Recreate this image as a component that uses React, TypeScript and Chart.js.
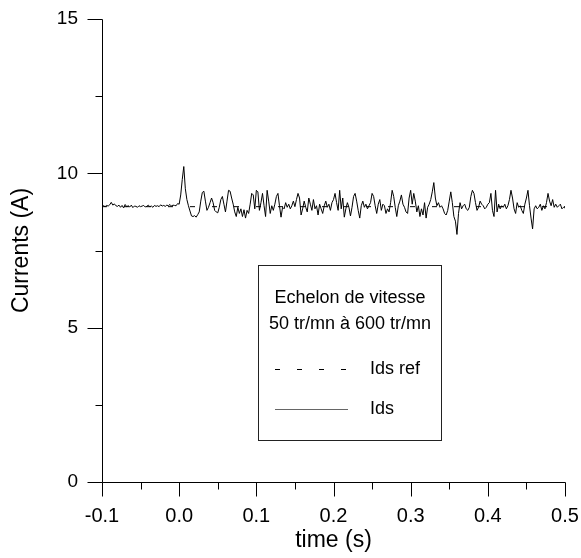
import { useEffect, useRef } from "react";
import { Chart, registerables } from "chart.js";

Chart.register(...registerables);

// ---- data ----
const T_START = -0.1;
const T_STEP = 0.002;

// Ids before the speed step (t = -0.100 .. 0.000)
const idsBefore = [
  8.93, 8.95, 8.92, 8.96, 8.94, 8.98, 9.06, 8.97, 9.01, 8.95,
  8.93, 8.97, 8.90, 8.96, 8.88, 8.99, 8.92, 8.95, 8.91, 8.97,
  8.89, 8.94, 8.93, 8.90, 8.95, 8.92, 8.94, 8.96, 8.91, 8.93,
  8.97, 8.92, 8.94, 8.90, 8.96, 8.93, 8.95, 8.92, 8.98, 8.94,
  8.96, 8.93, 8.97, 8.95, 8.99, 8.94, 8.97, 8.96, 8.95, 9.02,
  9.0,
];

// Ids after the speed step (t = 0.002 .. 0.500)
const idsAfter = [
  9.30, 9.80, 10.22, 9.50, 9.15, 8.95, 8.78, 8.62, 8.60, 8.63,
  8.58, 8.66, 8.75, 9.10, 9.38, 9.42, 9.10, 8.80, 8.90, 9.05,
  9.20, 9.05, 8.80, 8.75, 8.72, 8.90, 9.15, 9.25, 9.00, 8.75,
  9.10, 9.45, 9.42, 9.20, 9.00, 8.75, 8.60, 8.90, 8.70, 8.85,
  8.60, 8.82, 8.55, 8.80, 8.70, 9.00, 9.35, 9.30, 8.85, 9.45,
  9.40, 8.80, 9.05, 9.35, 8.95, 8.60, 9.45, 9.10, 8.70, 8.95,
  8.80, 9.00, 9.25, 9.35, 8.95, 8.58, 8.90, 8.85, 9.05, 8.90,
  9.00, 8.85, 8.95, 9.10, 8.92, 9.15, 9.35, 9.20, 8.65, 8.85,
  9.10, 8.90, 8.75, 9.20, 9.00, 8.80, 9.15, 8.85, 8.95, 8.65,
  9.00, 8.85, 8.70, 8.95, 9.10, 8.90, 9.00, 8.80, 9.05, 9.15,
  9.35, 9.05, 8.80, 9.45, 8.85, 9.20, 8.58, 8.85, 9.05, 8.90,
  8.62, 8.90, 9.25, 9.35, 9.10, 8.80, 8.55, 8.95, 9.10, 8.90,
  9.00, 8.85, 8.95, 9.05, 9.35, 9.25, 8.95, 8.70, 9.00, 9.15,
  8.80, 9.00, 8.95, 8.70, 8.85, 8.75, 9.05, 9.45, 9.25, 8.90,
  8.60, 8.95, 9.10, 9.30, 9.00, 8.90, 8.75, 8.70, 9.20, 9.45,
  9.00, 9.35, 9.10, 8.75, 8.95, 8.60, 8.85, 8.65, 9.05, 8.55,
  8.90, 9.00, 9.15, 9.40, 9.70, 9.20, 8.95, 9.05, 8.90, 8.95,
  8.85, 8.70, 8.65, 8.80, 9.10, 9.40, 9.05, 8.60, 8.45, 8.02,
  8.70, 9.05, 8.85, 8.95, 9.00, 8.85, 8.80, 8.90, 9.25, 9.45,
  9.35, 9.05, 8.80, 8.90, 9.10, 9.00, 8.95, 8.85, 8.90, 9.00,
  9.05, 9.35, 8.80, 8.60, 9.45, 8.75, 9.00, 8.85, 8.95, 8.90,
  9.00, 8.85, 8.95, 9.15, 9.45, 9.20, 8.85, 8.70, 9.05, 8.90,
  8.95, 8.80, 8.70, 9.00, 9.20, 9.45, 8.95, 8.55, 8.20, 8.85,
  8.95, 8.85, 8.90, 9.00, 8.80, 8.95, 8.85, 9.05, 9.35, 9.10,
  8.95, 9.15, 8.90, 9.00, 8.90, 8.95, 9.00, 8.85, 8.90, 8.88,
];

const idsRefTimes = [-0.1, 0.5];
const idsRefValues = [8.92, 8.92];

const xMajorTicks = [-0.1, 0.0, 0.1, 0.2, 0.3, 0.4, 0.5];
const xMinorTicks = [-0.05, 0.05, 0.15, 0.25, 0.35, 0.45];
const yMajorTicks = [0, 5, 10, 15];
const yMinorTicks = [2.5, 7.5, 12.5];

const legendTitle = ["Echelon de vitesse", "50 tr/mn à 600 tr/mn"];
const legendLabels = ["Ids ref", "Ids"];
const xTitle = "time (s)";
const yTitle = "Currents (A)";

const FONT = "'Liberation Sans', Arial, sans-serif";

const axesAndLegend = {
  id: "axesAndLegend",
  afterDraw(chart: any) {
    const { ctx, chartArea: a, scales } = chart;
    const xs = scales.x;
    const ys = scales.y;
    const h = (v: number) => Math.round(v) + 0.5;
    ctx.save();
    ctx.strokeStyle = "#000";
    ctx.lineWidth = 1;
    ctx.setLineDash([]);
    ctx.beginPath();
    ctx.moveTo(h(a.left), h(a.top));
    ctx.lineTo(h(a.left), h(a.bottom));
    ctx.lineTo(h(a.right), h(a.bottom));
    yMajorTicks.forEach((v) => {
      const py = h(ys.getPixelForValue(v));
      ctx.moveTo(h(a.left) - 15, py);
      ctx.lineTo(h(a.left), py);
    });
    yMinorTicks.forEach((v) => {
      const py = h(ys.getPixelForValue(v));
      ctx.moveTo(h(a.left) - 7, py);
      ctx.lineTo(h(a.left), py);
    });
    xMajorTicks.forEach((v) => {
      const px = h(xs.getPixelForValue(v));
      ctx.moveTo(px, h(a.bottom));
      ctx.lineTo(px, h(a.bottom) + 14);
    });
    xMinorTicks.forEach((v) => {
      const px = h(xs.getPixelForValue(v));
      ctx.moveTo(px, h(a.bottom));
      ctx.lineTo(px, h(a.bottom) + 7);
    });
    ctx.stroke();

    // legend box
    ctx.strokeStyle = "#222";
    ctx.strokeRect(258.5, 265.5, 183, 175);
    ctx.fillStyle = "#000";
    ctx.font = `18px ${FONT}`;
    ctx.textAlign = "center";
    ctx.textBaseline = "middle";
    ctx.fillText(legendTitle[0], 350, 298);
    ctx.fillText(legendTitle[1], 350, 324);
    ctx.strokeStyle = "#000";
    ctx.setLineDash([5, 17]);
    ctx.beginPath();
    ctx.moveTo(275, 369.5);
    ctx.lineTo(348, 369.5);
    ctx.stroke();
    ctx.setLineDash([]);
    ctx.strokeStyle = "#666";
    ctx.beginPath();
    ctx.moveTo(275, 409.5);
    ctx.lineTo(348, 409.5);
    ctx.stroke();
    ctx.textAlign = "left";
    ctx.fillText(legendLabels[0], 370, 369);
    ctx.fillText(legendLabels[1], 370, 409);
    ctx.restore();
  },
};

export default function App() {
  const ref = useRef<HTMLCanvasElement>(null);
  useEffect(() => {
    if (!ref.current) return;
    const idsValues = [...idsBefore, ...idsAfter];
    const idsPoints = idsValues.map((v, i) => ({ x: T_START + i * T_STEP, y: v }));
    const refPoints = idsRefTimes.map((t, i) => ({ x: t, y: idsRefValues[i] }));
    const chart = new Chart(ref.current, {
      type: "line",
      data: {
        datasets: [
          {
            label: legendLabels[0],
            data: refPoints,
            borderColor: "#000",
            borderWidth: 1,
            borderDash: [5, 17],
            pointRadius: 0,
            fill: false,
          },
          {
            label: legendLabels[1],
            data: idsPoints,
            borderColor: "#000",
            borderWidth: 1,
            pointRadius: 0,
            tension: 0,
            fill: false,
          },
        ],
      },
      options: {
        animation: false,
        responsive: false,
        events: [],
        layout: { padding: { left: 0, top: 19, right: 16, bottom: 0 } },
        plugins: { legend: { display: false }, tooltip: { enabled: false } },
        scales: {
          x: {
            type: "linear",
            min: -0.1,
            max: 0.5,
            grid: { display: false, drawTicks: false },
            border: { display: false },
            ticks: {
              stepSize: 0.1,
              padding: 22,
              color: "#000",
              font: { family: FONT, size: 20 },
              maxRotation: 0,
              callback: (v: any) => (Math.abs(Number(v)) < 1e-9 ? 0 : Number(v)).toFixed(1),
            },
            title: {
              display: true,
              text: xTitle,
              color: "#000",
              font: { family: FONT, size: 23 },
              padding: { top: 0, bottom: 4 },
            },
            afterFit: (s: any) => {
              s.height = 76;
              s.paddingLeft = 0;
              s.paddingRight = 0;
            },
          },
          y: {
            type: "linear",
            min: 0,
            max: 15,
            grid: { display: false, drawTicks: false },
            border: { display: false },
            ticks: {
              stepSize: 5,
              padding: 24,
              color: "#000",
              font: { family: FONT, size: 19 },
            },
            title: {
              display: true,
              text: yTitle,
              color: "#000",
              font: { family: FONT, size: 23 },
              padding: { top: 8, bottom: 0 },
            },
            afterFit: (s: any) => {
              s.width = 102;
              s.paddingTop = 0;
              s.paddingBottom = 0;
            },
          },
        },
      },
      plugins: [axesAndLegend],
    });
    return () => chart.destroy();
  }, []);
  return (
    <div style={{ position: "absolute", left: 0, top: 0, width: 581, height: 558, background: "#fff" }}>
      <canvas ref={ref} width={581} height={558} />
    </div>
  );
}
